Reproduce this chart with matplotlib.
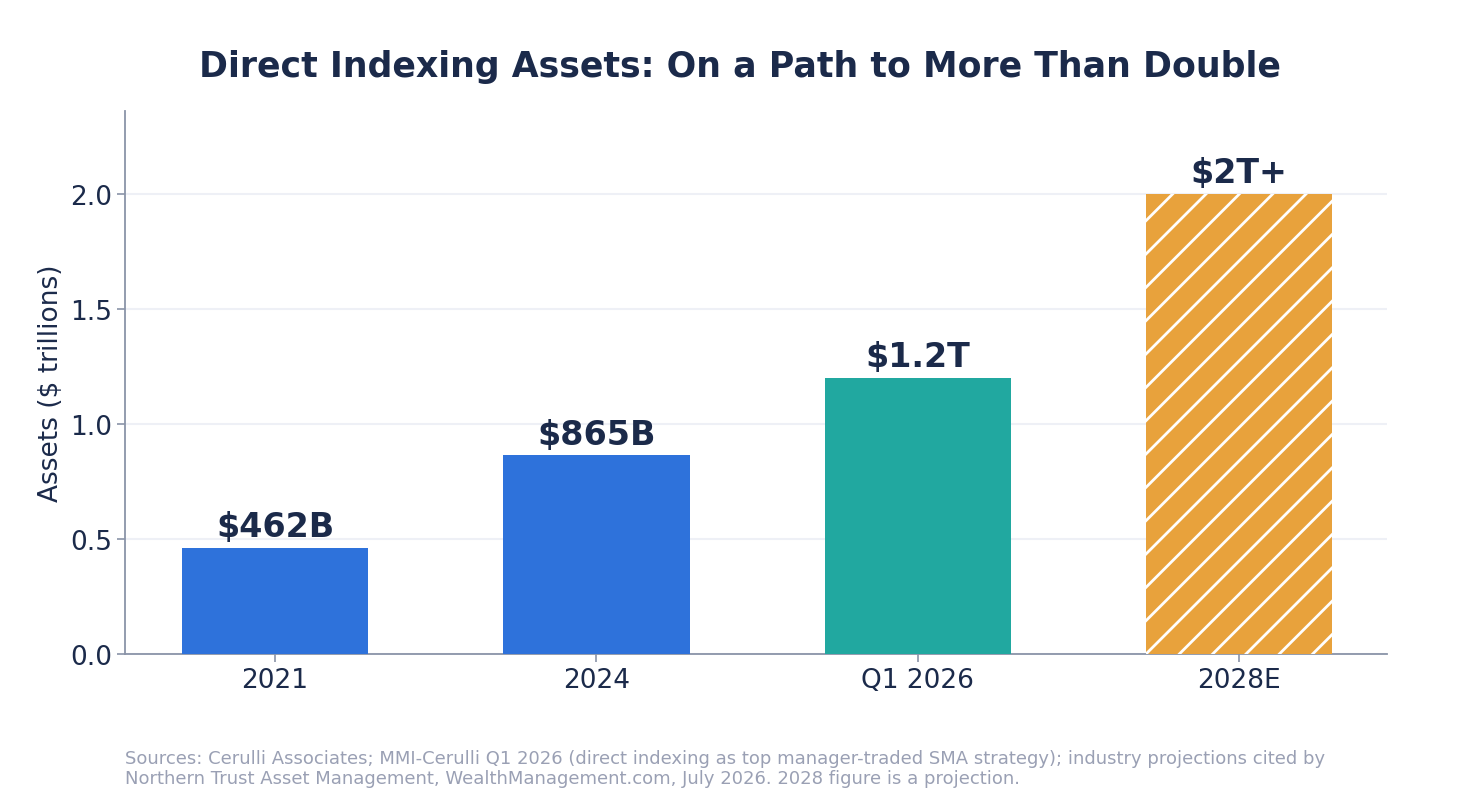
import matplotlib.pyplot as plt

categories = ["2021", "2024", "Q1 2026", "2028E"]
values = [0.462, 0.865, 1.2, 2.0]
labels = ["$462B", "$865B", "$1.2T", "$2T+"]
colors = ["#2E72DB", "#2E72DB", "#21A8A0", "#E8A23C"]

navy = "#1B2A4A"
plt.rcParams['font.family'] = ['DejaVu Sans']
plt.rcParams['hatch.linewidth'] = 2.0
plt.rcParams['hatch.color'] = 'white'

fig = plt.figure(figsize=(14.8, 8.12), dpi=100)
ax = fig.add_axes([0.0845, 0.193, 0.8525, 0.669])

x = range(len(categories))
bars = ax.bar(x, values, width=0.58, color=colors, zorder=3)
bars[3].set_hatch('/')
bars[3].set_edgecolor('white')
bars[3].set_linewidth(0)

for xi, v, lab in zip(x, values, labels):
    ax.text(xi, v + 0.02, lab, ha='center', va='bottom', fontsize=24,
            fontweight='bold', color=navy, zorder=4)

ax.set_xlim(-0.467, 3.46)
ax.set_ylim(0, 2.36)
ax.set_xticks(list(x))
ax.set_xticklabels(categories)
ax.set_yticks([0, 0.5, 1.0, 1.5, 2.0])
ax.set_yticklabels(["0.0", "0.5", "1.0", "1.5", "2.0"])
ax.tick_params(labelsize=19, colors=navy, length=6, width=1.2)
ax.tick_params(axis='both', color="#8A94A8")
ax.set_ylabel("Assets ($ trillions)", fontsize=19, color=navy)
ax.grid(axis='y', color="#EEF0F6", linewidth=1.5, zorder=0)
for s in ['top', 'right']:
    ax.spines[s].set_visible(False)
for s in ['left', 'bottom']:
    ax.spines[s].set_color("#8A94A8")
    ax.spines[s].set_linewidth(1.3)

fig.text(0.5, 0.918, "Direct Indexing Assets: On a Path to More Than Double",
         ha='center', va='center', fontsize=25, fontweight='bold', color=navy)
fig.text(0.0845, 0.03,
         "Sources: Cerulli Associates; MMI-Cerulli Q1 2026 (direct indexing as top manager-traded SMA strategy); industry projections cited by\n"
         "Northern Trust Asset Management, WealthManagement.com, July 2026. 2028 figure is a projection.",
         ha='left', va='bottom', fontsize=13, color="#9AA0B4", linespacing=1.15)

fig.savefig("out.png", dpi=100)
